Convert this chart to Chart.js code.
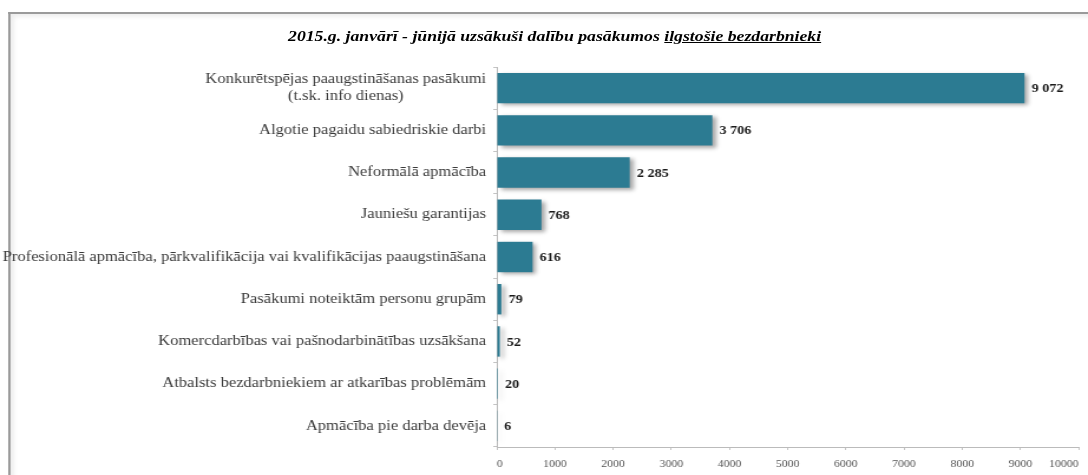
<!DOCTYPE html>
<html>
<head>
<meta charset="utf-8">
<script src="https://cdn.jsdelivr.net/npm/chart.js@4"></script>
<style>
  html, body { margin: 0; padding: 0; background: #fff; overflow: hidden; }
  /* the original picture is stretched horizontally, so the whole chart is drawn narrower and widened */
  #wrap { position: relative; width: 922px; height: 475px; overflow: hidden;
          transform: scaleX(1.18); transform-origin: 0 0; }
  #frame { position: absolute; left: 7px; top: 12px; width: 940px; height: 500px;
           border: 2px solid #9a9a9a; border-right: none; border-bottom: none;
           box-shadow: inset 3px 3px 4px #eee; }
  #title { position: absolute; left: 0; top: 28px; width: 940px; text-align: center;
           font: italic bold 15px "Liberation Serif", "Times New Roman", serif; color: #000; }
  canvas { position: absolute; left: 0; top: 0; }
</style>
</head>
<body>
<div id="wrap">
  <div id="frame"></div>
  <div id="title">2015.g. janvārī - jūnijā uzsākuši dalību pasākumos <u>ilgstošie bezdarbnieki</u></div>
  <canvas id="chart" width="922" height="475"></canvas>
</div>
<script>
const categories = [
    ["Konkurētspējas paaugstināšanas pasākumi", "(t.sk. info dienas)                    "],
    "Algotie pagaidu sabiedriskie darbi",
    "Neformālā apmācība",
    "Jauniešu garantijas",
    "Profesionālā apmācība, pārkvalifikācija vai kvalifikācijas paaugstināšana",
    "Pasākumi noteiktām personu grupām",
    "Komercdarbības vai pašnodarbinātības uzsākšana",
    "Atbalsts bezdarbniekiem ar atkarības problēmām",
    "Apmācība pie darba devēja"
];
const participants = [9072, 3706, 2285, 768, 616, 79, 52, 20, 6];
const xTicks = [0, 1000, 2000, 3000, 4000, 5000, 6000, 7000, 8000, 9000, 10000];

const serif = '"Liberation Serif", "Times New Roman", serif';

function fmt(v) {
    return v.toString().replace(/\B(?=(\d{3})+(?!\d))/g, ' ');
}

// soft grey shadow behind the bars
const barShadow = {
    id: 'barShadow',
    beforeDatasetDraw(chart) {
        const ctx = chart.ctx;
        ctx.save();
        ctx.shadowColor = 'rgba(0,0,0,0.35)';
        ctx.shadowBlur = 4;
        ctx.shadowOffsetX = 3;
        ctx.shadowOffsetY = 2;
    },
    afterDatasetDraw(chart) {
        chart.ctx.restore();
    }
};

const valueLabels = {
    id: 'valueLabels',
    afterDatasetsDraw(chart) {
        const ctx = chart.ctx;
        const meta = chart.getDatasetMeta(0);
        ctx.save();
        ctx.font = 'bold 12px ' + serif;
        ctx.fillStyle = '#1a1a1a';
        ctx.textBaseline = 'middle';
        ctx.textAlign = 'left';
        meta.data.forEach((bar, i) => {
            ctx.fillText(fmt(participants[i]), bar.x + 6, bar.y + 1);
        });
        ctx.restore();
    }
};

new Chart(document.getElementById('chart'), {
    type: 'bar',
    data: {
        labels: categories,
        datasets: [{
            data: participants,
            backgroundColor: '#2c7b92',
            borderWidth: 0,
            categoryPercentage: 1,
            barPercentage: 0.72
        }]
    },
    options: {
        indexAxis: 'y',
        responsive: false,
        animation: false,
        layout: { padding: { top: 67, right: 4, left: 0, bottom: 0 } },
        plugins: {
            legend: { display: false },
            tooltip: { enabled: false }
        },
        scales: {
            x: {
                min: 0,
                max: 10000,
                afterBuildTicks(scale) {
                    scale.ticks = xTicks.map(v => ({ value: v }));
                },
                afterFit(scale) { scale.height = 28; },
                grid: { drawOnChartArea: false, tickLength: 3, color: '#c4c4c4' },
                border: { color: '#bbb' },
                ticks: {
                    align: 'inner',
                    padding: 8,
                    color: '#555',
                    font: { family: serif, size: 10 },
                    callback: v => String(v)
                }
            },
            y: {
                afterFit(scale) { scale.width = 421; },
                grid: { drawOnChartArea: false, offset: true, tickLength: 3, color: '#c4c4c4' },
                border: { color: '#bbb' },
                ticks: {
                    padding: 6,
                    color: '#3a3a3a',
                    font: { family: serif, size: 14 }
                }
            }
        }
    },
    plugins: [barShadow, valueLabels]
});
</script>
</body>
</html>
